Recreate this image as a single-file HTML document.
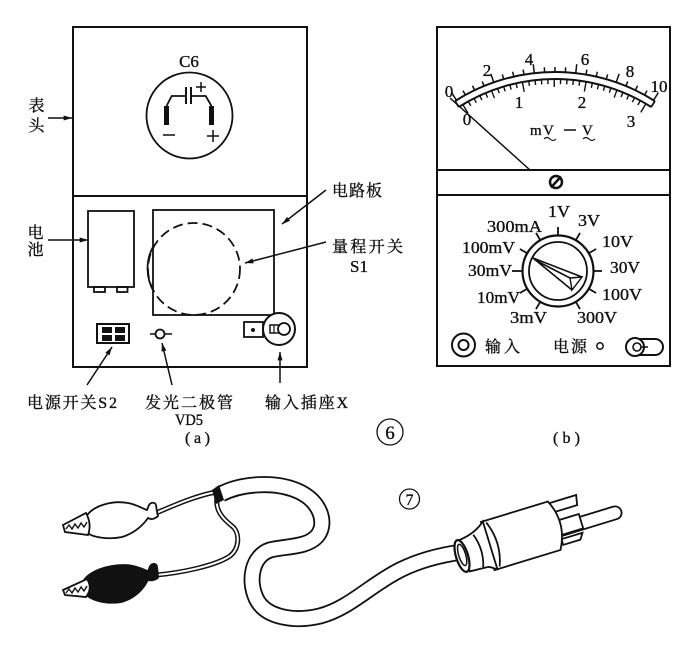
<!DOCTYPE html>
<html><head><meta charset="utf-8"><style>
html,body{margin:0;padding:0;background:#fff;}
svg{display:block;}
text{font-family:"Liberation Serif","Noto Serif CJK SC",serif;fill:#111;stroke:#111;stroke-width:0.35px;}
.cj{font-family:"Liberation Serif","Noto Serif CJK SC",serif;font-size:16px;}
.lt{font-size:17px;}
</style></head><body>
<svg width="700" height="647" viewBox="0 0 700 647" xmlns="http://www.w3.org/2000/svg">
<defs>
<marker id="ah" viewBox="0 0 10 6" refX="10" refY="3" markerWidth="9" markerHeight="5" orient="auto" markerUnits="userSpaceOnUse"><path d="M0,0 L10,3 L0,6 Z" fill="#111"/></marker>
</defs>
<rect width="700" height="647" fill="#fff"/>
<g stroke="#111" fill="none" stroke-width="1.8">
<!-- (a) frame -->
<rect x="73" y="27" width="234" height="340" stroke-width="2"/>
<line x1="73" y1="196" x2="307" y2="196" stroke-width="2"/>
<!-- C6 -->
<circle cx="189.5" cy="115.5" r="43"/>
<polyline points="166.5,106 171.7,96 186,96"/>
<polyline points="191,96 205.7,96 211.5,106"/>
<line x1="186" y1="87" x2="186" y2="104" stroke-width="2"/>
<line x1="191" y1="87" x2="191" y2="104" stroke-width="2"/>
<rect x="164" y="106" width="5" height="19" fill="#111" stroke="none"/>
<rect x="209" y="106" width="5" height="19" fill="#111" stroke="none"/>
<path d="M196,87 H206 M201,82 V92" stroke-width="1.5"/>
<path d="M163,135 H175" stroke-width="1.5"/>
<path d="M207,136 H219 M213,130 V142" stroke-width="1.5"/>
<!-- 表头 arrow -->
<line x1="48" y1="118" x2="72" y2="118" stroke-width="1.5" marker-end="url(#ah)"/>
<!-- battery -->
<rect x="88" y="211" width="46" height="76"/>
<rect x="94" y="287" width="11" height="5"/>
<rect x="117" y="287" width="10.5" height="5"/>
<line x1="48" y1="240" x2="88" y2="240" stroke-width="1.5" marker-end="url(#ah)"/>
<!-- S1 -->
<rect x="153" y="210" width="121" height="105"/>
<circle cx="194" cy="269" r="46" stroke-dasharray="10 5"/>
<path d="M154,245 A46,46 0 0 0 154,292"/>
<!-- arrows right -->
<line x1="326" y1="190" x2="282" y2="224" stroke-width="1.5" marker-end="url(#ah)"/>
<line x1="326" y1="242" x2="245" y2="263" stroke-width="1.5" marker-end="url(#ah)"/>
<!-- S2 -->
<rect x="97" y="324" width="32" height="19" stroke-width="2"/>
<g fill="#111" stroke="none">
<rect x="102" y="327" width="10" height="6"/><rect x="115" y="327" width="10" height="6"/>
<rect x="102" y="335" width="10" height="6"/><rect x="115" y="335" width="10" height="6"/>
</g>
<!-- LED -->
<line x1="150" y1="334" x2="172" y2="334" stroke-width="1.5"/>
<circle cx="160" cy="334" r="4.5" fill="#fff"/>
<!-- jack -->
<rect x="244" y="322" width="19" height="15"/>
<circle cx="253" cy="330" r="2" fill="#111" stroke="none"/>
<circle cx="279" cy="329" r="16" stroke-width="2" fill="#fff"/>
<rect x="270" y="325" width="9" height="8" stroke-width="1.5"/>
<line x1="274" y1="325" x2="274" y2="333" stroke-width="1.2"/>
<circle cx="284" cy="329" r="6" fill="#fff"/>
<!-- bottom arrows -->
<line x1="87" y1="385" x2="112" y2="347" stroke-width="1.5" marker-end="url(#ah)"/>
<line x1="172" y1="385" x2="162" y2="343" stroke-width="1.5" marker-end="url(#ah)"/>
<line x1="280" y1="383" x2="280" y2="352" stroke-width="1.5" marker-end="url(#ah)"/>

<!-- (b) frame -->
<rect x="437" y="27" width="233" height="339" stroke-width="2"/>
<line x1="437" y1="170" x2="670" y2="170" stroke-width="2"/>
<line x1="437" y1="195" x2="670" y2="195" stroke-width="2"/>
<!-- scale band -->
<path d="M455.1,101.1 A186,186 0 0 1 654.9,101.1" stroke-width="2"/>
<path d="M458.8,107 A179,179 0 0 1 651.2,107" stroke-width="2"/>
<path d="M455.1,101.1 L458.8,107 M654.9,101.1 L651.2,107"/>
<!-- upper ticks -->
<g stroke-width="1.5">
<line x1="555" y1="72" x2="555" y2="63" transform="rotate(-32 555 258)"/>
<line x1="555" y1="72" x2="555" y2="67" transform="rotate(-28.8 555 258)"/>
<line x1="555" y1="72" x2="555" y2="67" transform="rotate(-25.6 555 258)"/>
<line x1="555" y1="72" x2="555" y2="67" transform="rotate(-22.4 555 258)"/>
<line x1="555" y1="72" x2="555" y2="63" transform="rotate(-19.2 555 258)"/>
<line x1="555" y1="72" x2="555" y2="67" transform="rotate(-16 555 258)"/>
<line x1="555" y1="72" x2="555" y2="67" transform="rotate(-12.8 555 258)"/>
<line x1="555" y1="72" x2="555" y2="67" transform="rotate(-9.6 555 258)"/>
<line x1="555" y1="72" x2="555" y2="63" transform="rotate(-6.4 555 258)"/>
<line x1="555" y1="72" x2="555" y2="67" transform="rotate(-3.2 555 258)"/>
<line x1="555" y1="72" x2="555" y2="67"/>
<line x1="555" y1="72" x2="555" y2="67" transform="rotate(3.2 555 258)"/>
<line x1="555" y1="72" x2="555" y2="63" transform="rotate(6.4 555 258)"/>
<line x1="555" y1="72" x2="555" y2="67" transform="rotate(9.6 555 258)"/>
<line x1="555" y1="72" x2="555" y2="67" transform="rotate(12.8 555 258)"/>
<line x1="555" y1="72" x2="555" y2="67" transform="rotate(16 555 258)"/>
<line x1="555" y1="72" x2="555" y2="63" transform="rotate(19.2 555 258)"/>
<line x1="555" y1="72" x2="555" y2="67" transform="rotate(22.4 555 258)"/>
<line x1="555" y1="72" x2="555" y2="67" transform="rotate(25.6 555 258)"/>
<line x1="555" y1="72" x2="555" y2="67" transform="rotate(28.8 555 258)"/>
<line x1="555" y1="72" x2="555" y2="63" transform="rotate(32 555 258)"/>
</g>
<!-- lower ticks -->
<g stroke-width="1.4">
<line x1="555" y1="79" x2="555" y2="89" transform="rotate(-31 555 258)"/>
<line x1="555" y1="79" x2="555" y2="84" transform="rotate(-28.95 555 258)"/>
<line x1="555" y1="79" x2="555" y2="84" transform="rotate(-26.9 555 258)"/>
<line x1="555" y1="79" x2="555" y2="84" transform="rotate(-24.85 555 258)"/>
<line x1="555" y1="79" x2="555" y2="84" transform="rotate(-22.8 555 258)"/>
<line x1="555" y1="79" x2="555" y2="87" transform="rotate(-20.75 555 258)"/>
<line x1="555" y1="79" x2="555" y2="84" transform="rotate(-18.7 555 258)"/>
<line x1="555" y1="79" x2="555" y2="84" transform="rotate(-16.65 555 258)"/>
<line x1="555" y1="79" x2="555" y2="84" transform="rotate(-14.6 555 258)"/>
<line x1="555" y1="79" x2="555" y2="84" transform="rotate(-12.55 555 258)"/>
<line x1="555" y1="79" x2="555" y2="89" transform="rotate(-10.5 555 258)"/>
<line x1="555" y1="79" x2="555" y2="84" transform="rotate(-8.45 555 258)"/>
<line x1="555" y1="79" x2="555" y2="84" transform="rotate(-6.4 555 258)"/>
<line x1="555" y1="79" x2="555" y2="84" transform="rotate(-4.35 555 258)"/>
<line x1="555" y1="79" x2="555" y2="84" transform="rotate(-2.3 555 258)"/>
<line x1="555" y1="79" x2="555" y2="87" transform="rotate(-0.25 555 258)"/>
<line x1="555" y1="79" x2="555" y2="84" transform="rotate(1.8 555 258)"/>
<line x1="555" y1="79" x2="555" y2="84" transform="rotate(3.85 555 258)"/>
<line x1="555" y1="79" x2="555" y2="84" transform="rotate(5.9 555 258)"/>
<line x1="555" y1="79" x2="555" y2="84" transform="rotate(7.95 555 258)"/>
<line x1="555" y1="79" x2="555" y2="89" transform="rotate(10 555 258)"/>
<line x1="555" y1="79" x2="555" y2="84" transform="rotate(12.05 555 258)"/>
<line x1="555" y1="79" x2="555" y2="84" transform="rotate(14.1 555 258)"/>
<line x1="555" y1="79" x2="555" y2="84" transform="rotate(16.15 555 258)"/>
<line x1="555" y1="79" x2="555" y2="84" transform="rotate(18.2 555 258)"/>
<line x1="555" y1="79" x2="555" y2="87" transform="rotate(20.25 555 258)"/>
<line x1="555" y1="79" x2="555" y2="84" transform="rotate(22.3 555 258)"/>
<line x1="555" y1="79" x2="555" y2="84" transform="rotate(24.35 555 258)"/>
<line x1="555" y1="79" x2="555" y2="84" transform="rotate(26.4 555 258)"/>
<line x1="555" y1="79" x2="555" y2="84" transform="rotate(28.45 555 258)"/>
<line x1="555" y1="79" x2="555" y2="89" transform="rotate(30.5 555 258)"/>
</g>
<!-- needle -->
<line x1="450" y1="98" x2="530" y2="170" stroke-width="1.5"/>
<!-- tildes & dash -->
<path d="M544,139 q3,-3 6,0 t6,0" stroke-width="1.2"/>
<path d="M583,139 q3,-3 6,0 t6,0" stroke-width="1.2"/>
<line x1="564" y1="130" x2="576" y2="130" stroke-width="1.5"/>
<!-- screw -->
<circle cx="556" cy="182" r="6" stroke-width="2.5"/>
<line x1="551" y1="187.5" x2="561" y2="176.5" stroke-width="2.5"/>
<!-- dial -->
<g stroke-width="1.8">
<line x1="558" y1="235" x2="558" y2="227"/>
<line x1="558" y1="235" x2="558" y2="227" transform="rotate(30 558 271)"/>
<line x1="558" y1="235" x2="558" y2="227" transform="rotate(60 558 271)"/>
<line x1="558" y1="235" x2="558" y2="227" transform="rotate(90 558 271)"/>
<line x1="558" y1="235" x2="558" y2="227" transform="rotate(120 558 271)"/>
<line x1="558" y1="235" x2="558" y2="227" transform="rotate(150 558 271)"/>
<line x1="558" y1="235" x2="558" y2="227" transform="rotate(210 558 271)"/>
<line x1="558" y1="235" x2="558" y2="227" transform="rotate(240 558 271)"/>
<line x1="558" y1="235" x2="558" y2="225" transform="rotate(270 558 271)"/>
<line x1="558" y1="235" x2="558" y2="227" transform="rotate(300 558 271)"/>
<line x1="558" y1="235" x2="558" y2="227" transform="rotate(330 558 271)"/>
</g>
<circle cx="558" cy="271" r="35.5" stroke-width="2.2"/>
<circle cx="558" cy="271" r="29" stroke-width="1.8"/>
<path d="M533,258 L582,277 M533,258 L572,290 M535,260 L570,278" stroke-width="1.6"/>
<path d="M570,278 L582,277 L572,290 Z" stroke-width="1.4" fill="#fff"/>
<!-- bottom row (b) -->
<circle cx="463.5" cy="345" r="11.5" stroke-width="2"/>
<circle cx="463.5" cy="345" r="5" stroke-width="2"/>
<circle cx="600" cy="346" r="3.2" stroke-width="1.5"/>
<path d="M638,339 L655,339 A8,8 0 0 1 655,355 L638,355" stroke-width="2"/>
<circle cx="635" cy="347" r="9" stroke-width="2" fill="#fff"/>
<circle cx="637" cy="347" r="4" stroke-width="1.6"/>
<line x1="641" y1="347" x2="648" y2="347" stroke-width="1.5"/>

<!-- ⑥ ⑦ circles -->
<circle cx="390" cy="432" r="13" stroke-width="1.3"/>
<circle cx="409.5" cy="499" r="10" stroke-width="1.3"/>

<!-- cable tube -->
<path d="M221,494 C240,484 275,480 300,492 C320,502 327,522 318,535 C308,548 285,546 270,550 C252,556 248,580 256,598 C265,618 295,622 320,616 C350,608 370,585 400,570 C420,560 440,555 462,552" stroke-width="17"/>
<path d="M221,494 C240,484 275,480 300,492 C320,502 327,522 318,535 C308,548 285,546 270,550 C252,556 248,580 256,598 C265,618 295,622 320,616 C350,608 370,585 400,570 C420,560 440,555 462,552" stroke="#fff" stroke-width="13.4"/>
<!-- thin wires -->
<path d="M156,513 C175,505 195,496 216,492" stroke-width="5"/>
<path d="M156,513 C175,505 195,496 216,492" stroke="#fff" stroke-width="2"/>
<path d="M156,575 C180,573 215,566 230,556 C240,548 240,532 232,526 C222,518 215,510 217,497" stroke-width="5"/>
<path d="M156,575 C180,573 215,566 230,556 C240,548 240,532 232,526 C222,518 215,510 217,497" stroke="#fff" stroke-width="2"/>
<path d="M212,490 L219,485 L224,500 L216,504 Z" fill="#111" stroke="none"/>

<!-- white clip -->
<path d="M86,517 C92,506 112,500 128,503 C138,505 143,509 147,510 L149,505 C151,502 155,502 156,505 L157,512 L158,516 C155,519 151,520 148,518 C143,525 135,533 122,537 C108,540 92,537 88,533 Z" fill="#fff" stroke-width="1.8"/>
<path d="M63,525 L86,513 Q92,524 88,535 L65,532 Z" fill="#fff" stroke-width="1.8"/>
<polyline points="66,529 69,525 72,529 75,524 78,528 81,523 84,527 87,522" stroke-width="1.4"/>
<!-- black clip -->
<path d="M82,583 C88,571 108,564 128,565 C137,566 143,569 148,571 L150,566 C152,563 156,563 157,566 L158,574 L158,578 C155,580 151,581 148,580 C143,590 135,598 122,602 C105,605 90,600 84,593 Z" fill="#111" stroke-width="1.5"/>
<path d="M63,590 L87,579 Q93,588 86,597 L65,595 Z" fill="#fff" stroke-width="1.8"/>
<polyline points="66,593 69,589 72,593 75,588 78,592 81,587 84,591 87,586" stroke-width="1.4"/>
</g>

<!-- plug -->
<g transform="translate(462,556) rotate(-17)" stroke="#111" stroke-width="1.8" fill="#fff">
<path d="M97,-25 L127,-25 L125,-15 L99,-15 Z"/>
<path d="M100,-3 L159,-3 A6.5,6.5 0 0 1 159,10 L100,10 Z"/>
<path d="M100,-6 L124,-6 L124,9 L100,9 Z"/>
<path d="M100,13 L122,13 L118,19 L100,19 Z"/>
<path d="M28,-27 L98,-27 Q110,-2 96,23 L27,23 Z"/>
<path d="M2,-16 C12,-17 22,-20 30,-27 L30,23 C26,21 24,18 21,18 L3,17 Z"/>
<path d="M17,-17 Q23,0 17,17" fill="none"/>
<path d="M33,-25 Q42,-2 33,21" fill="none"/>
<ellipse cx="0" cy="0" rx="6" ry="16.5" stroke-width="2.2"/>
<ellipse cx="0.5" cy="-1" rx="3.5" ry="11" stroke-width="1.5"/>
</g>

<!-- text (a) -->
<text x="189" y="67" class="lt" text-anchor="middle">C6</text>
<text x="36.5" y="111" class="cj" text-anchor="middle">表</text>
<text x="36.5" y="131" class="cj" text-anchor="middle">头</text>
<text x="35.5" y="238" class="cj" text-anchor="middle">电</text>
<text x="35.5" y="255" class="cj" text-anchor="middle">池</text>
<text x="332" y="196" class="cj" textLength="50" lengthAdjust="spacing">电路板</text>
<text x="332" y="252" class="cj" textLength="71" lengthAdjust="spacing">量程开关</text>
<text x="350" y="272" class="lt">S1</text>
<text x="27" y="408" class="cj" textLength="90" lengthAdjust="spacing">电源开关S2</text>
<text x="145" y="408" class="cj" textLength="88" lengthAdjust="spacing">发光二极管</text>
<text x="175" y="425" class="cj" textLength="28" lengthAdjust="spacingAndGlyphs">VD5</text>
<text x="185" y="443" class="cj" textLength="25" lengthAdjust="spacing">(a)</text>
<text x="265" y="408" class="cj" textLength="83" lengthAdjust="spacing">输入插座X</text>
<text x="390" y="439" text-anchor="middle" style="font-size:19px">6</text>
<text x="409.5" y="505" text-anchor="middle" style="font-size:16px">7</text>

<!-- text (b) meter -->
<g class="lt" text-anchor="middle">
<text x="449" y="97">0</text>
<text x="487" y="76">2</text>
<text x="529" y="65">4</text>
<text x="585" y="65">6</text>
<text x="630" y="77">8</text>
<text x="659" y="92">10</text>
<text x="467" y="125">0</text>
<text x="519" y="108">1</text>
<text x="582" y="108">2</text>
<text x="631" y="127">3</text>
</g>
<text x="530" y="135" style="font-size:15px">m</text>
<text x="543" y="135" style="font-size:15px">V</text>
<text x="582" y="135" style="font-size:15px">V</text>

<g class="lt">
<text x="487" y="232" textLength="55" lengthAdjust="spacingAndGlyphs">300mA</text>
<text x="548" y="217" textLength="22" lengthAdjust="spacingAndGlyphs">1V</text>
<text x="578" y="226" textLength="22" lengthAdjust="spacingAndGlyphs">3V</text>
<text x="462" y="253" textLength="53" lengthAdjust="spacingAndGlyphs">100mV</text>
<text x="602" y="247" textLength="31" lengthAdjust="spacingAndGlyphs">10V</text>
<text x="468" y="276" textLength="44" lengthAdjust="spacingAndGlyphs">30mV</text>
<text x="610" y="273" textLength="30" lengthAdjust="spacingAndGlyphs">30V</text>
<text x="477" y="303" textLength="43" lengthAdjust="spacingAndGlyphs">10mV</text>
<text x="602" y="300" textLength="40" lengthAdjust="spacingAndGlyphs">100V</text>
<text x="510" y="323" textLength="37" lengthAdjust="spacingAndGlyphs">3mV</text>
<text x="577" y="323" textLength="40" lengthAdjust="spacingAndGlyphs">300V</text>
</g>
<text x="485" y="352" class="cj" textLength="35" lengthAdjust="spacing">输入</text>
<text x="553" y="352" class="cj" textLength="34" lengthAdjust="spacing">电源</text>
<text x="553" y="443" class="cj" textLength="27" lengthAdjust="spacing">(b)</text>
</svg>
</body></html>
